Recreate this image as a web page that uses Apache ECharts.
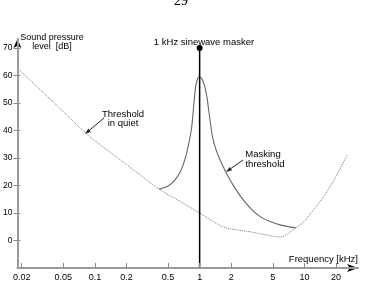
<!DOCTYPE html>
<html><head><meta charset="utf-8">
<script src="https://cdn.jsdelivr.net/npm/echarts@6/dist/echarts.min.js"></script>
<style>html,body{margin:0;padding:0;background:#fff}#c{width:365px;height:290px}</style>
</head><body><div id="c"></div>
<script>
// Threshold in quiet (frequency kHz, level dB)
const quietFreq = [0.0182, 0.04, 0.0855, 0.183, 0.41, 0.647, 1, 1.69, 3.1, 5.96, 8.26, 10, 11.45, 15.2, 19.7, 25.6];
const quietDb   = [62.7, 50.4, 38.4, 28.8, 18.7, 14.3, 10, 4.9, 3.1, 1.3, 4.6, 7.0, 9.8, 15.8, 22.8, 31.1];
// Masking threshold
const maskFreq = [0.41, 0.5, 0.58, 0.66, 0.721, 0.78, 0.84, 0.878, 0.917, 0.96, 1, 1.05, 1.11, 1.17, 1.22, 1.27, 1.33, 1.42, 1.546, 1.80, 2.14, 2.49, 3.1, 3.85, 4.8, 5.96, 8.26];
const maskDb   = [18.7, 19.8, 22.0, 25.3, 29.3, 34.5, 41.3, 49.0, 56.0, 59.0, 59.5, 58.8, 56.5, 52.5, 47.5, 42.5, 37.5, 33.5, 29.8, 24.5, 19.5, 15.8, 11.5, 8.5, 6.8, 5.6, 4.6];
// Masker
const maskerFreq = 1;
const maskerDb = 70;
// Axes
const xTickValues = [0.02, 0.05, 0.1, 0.2, 0.5, 1, 2, 5, 10, 20];
const xTickLabels = ['0.02', '0.05', '0.1', '0.2', '0.5', '1', '2', '5', '10', '20'];
const yTickValues = [0, 10, 20, 30, 40, 50, 60, 70];
const xMinFreq = 0.01823, xMaxFreq = 32.5;
const yMin = -10, yMax = 73.3;

const L = Math.log10;
const xTicksLog = xTickValues.map(L);
const FONT = '"Liberation Sans", Arial, sans-serif';

function xFmt(v) {
  let best = 0, bd = Infinity;
  xTicksLog.forEach((t, i) => { const d = Math.abs(t - v); if (d < bd) { bd = d; best = i; } });
  return xTickLabels[best];
}

function arrow(x1, y1, x2, y2) {
  const len = Math.hypot(x2 - x1, y2 - y1);
  const dx = (x2 - x1) / len, dy = (y2 - y1) / len;
  const nx = -dy, ny = dx, h = 6, w = 2;
  const bx = x2 - dx * h, by = y2 - dy * h;
  return [
    { type: 'line', shape: { x1: x1, y1: y1, x2: bx, y2: by }, style: { stroke: '#222', lineWidth: 1 } },
    { type: 'polygon', shape: { points: [[x2, y2], [bx + nx * w, by + ny * w], [bx - nx * w, by - ny * w]] }, style: { fill: '#222' } }
  ];
}

function txt(x, y, text, align, size, family) {
  return { type: 'text', x: x, y: y, style: { text: text, align: align || 'center', verticalAlign: 'middle', fontSize: size || 9.5, fontFamily: family || FONT, fill: '#000' } };
}

const chart = echarts.init(document.getElementById('c'), null, { renderer: 'canvas' });
chart.setOption({
  animation: false,
  grid: { left: 14, right: 7, top: 39, bottom: 22 },
  xAxis: [
    {
      type: 'value', min: L(xMinFreq), max: L(xMaxFreq), z: 5,
      axisLine: { onZero: false, lineStyle: { color: '#9a9a9a', width: 2 } },
      axisTick: { inside: true, length: 5, customValues: xTicksLog, lineStyle: { color: '#888', width: 1 } },
      axisLabel: { customValues: xTicksLog, formatter: xFmt, fontSize: 9, color: '#000', margin: 5, fontFamily: FONT },
      splitLine: { show: false }
    },
    {
      type: 'value', min: L(xMinFreq), max: L(xMaxFreq), position: 'bottom', z: 1,
      axisLine: { onZero: false, symbol: ['none', 'arrow'], symbolSize: [6, 11], lineStyle: { color: '#000', width: 1 } },
      axisTick: { show: false }, axisLabel: { show: false }, splitLine: { show: false }
    }
  ],
  yAxis: [
    {
      type: 'value', min: yMin, max: yMax, z: 5,
      axisLine: { show: true, onZero: false, lineStyle: { color: '#9a9a9a', width: 2 } },
      axisTick: { show: true, length: 4, customValues: yTickValues, lineStyle: { color: '#888', width: 1 } },
      axisLabel: { customValues: yTickValues, fontSize: 8.5, color: '#000', margin: 5, fontFamily: FONT },
      splitLine: { show: false }
    },
    {
      type: 'value', min: yMin, max: yMax, position: 'left', z: 1,
      axisLine: { show: true, onZero: false, symbol: ['none', 'arrow'], symbolSize: [6, 9], lineStyle: { color: '#000', width: 1 } },
      axisTick: { show: true, inside: true, length: 3, customValues: yTickValues, lineStyle: { color: '#888', width: 1 } },
      axisLabel: { show: false }, splitLine: { show: false }
    }
  ],
  series: [
    {
      type: 'line', name: 'Threshold in quiet', showSymbol: false, smooth: 0.25,
      data: quietFreq.map((f, i) => [L(f), quietDb[i]]),
      lineStyle: { color: '#777', width: 1, type: 'dotted' }, z: 3
    },
    {
      type: 'line', name: 'Masking threshold', showSymbol: false, smooth: 0.3,
      data: maskFreq.map((f, i) => [L(f), maskDb[i]]),
      lineStyle: { color: '#666', width: 1.1 }, z: 3
    },
    {
      type: 'line', name: 'Masker', showSymbol: true,
      data: [
        { value: [L(maskerFreq), yMin], symbol: 'none' },
        { value: [L(maskerFreq), maskerDb], symbol: 'circle', symbolSize: 6 }
      ],
      itemStyle: { color: '#000' }, lineStyle: { color: '#000', width: 1.5 }, z: 4
    }
  ],
  graphic: [
    txt(181, 1, '29', 'center', 14, '"Liberation Serif", serif'),
    txt(52, 38, 'Sound pressure', 'center', 9),
    txt(52, 47, 'level  [dB]', 'center', 9),
    txt(204, 42, '1 kHz sinewave masker'),
    txt(123, 114, 'Threshold'),
    txt(123, 123, 'in quiet'),
    txt(263, 154, 'Masking'),
    txt(265, 164, 'threshold'),
    txt(358, 259, 'Frequency [kHz]', 'right'),
    ...arrow(104, 118, 85, 134),
    ...arrow(243, 160, 226, 172)
  ]
});
</script>
</body></html>
